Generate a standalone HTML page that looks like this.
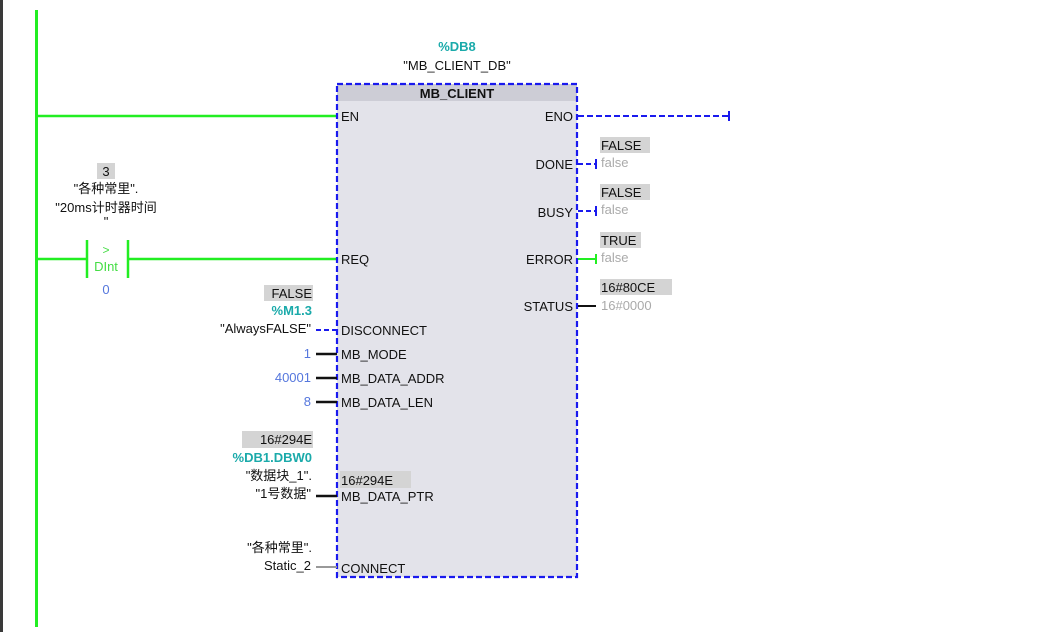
<!DOCTYPE html>
<html><head><meta charset="utf-8"><style>
html,body{margin:0;padding:0;background:#fff;width:1045px;height:632px;overflow:hidden}
svg text{font-family:"Liberation Sans","Noto Sans CJK SC",sans-serif;font-size:13px;fill:#111}
</style></head><body>
<svg width="1045" height="632" xmlns="http://www.w3.org/2000/svg">
<rect x="0" y="0" width="3" height="632" fill="#3a3a3a"/>
<!-- power rail -->
<rect x="35" y="10" width="3" height="617" fill="#22ee22"/>
<!-- EN line -->
<line x1="37" y1="116" x2="337" y2="116" stroke="#22ee22" stroke-width="2.5"/>
<!-- REQ line with contact -->
<line x1="37" y1="259" x2="86" y2="259" stroke="#22ee22" stroke-width="2.5"/>
<line x1="87" y1="240" x2="87" y2="278" stroke="#22ee22" stroke-width="2.5"/>
<line x1="128" y1="240" x2="128" y2="278" stroke="#22ee22" stroke-width="2.5"/>
<line x1="129" y1="259" x2="337" y2="259" stroke="#22ee22" stroke-width="2.5"/>
<text x="106" y="254" text-anchor="middle" style="fill:#44dd44;font-size:12px">&gt;</text>
<text x="106" y="271" text-anchor="middle" style="fill:#44dd44;font-size:13px">DInt</text>
<text x="106" y="294" text-anchor="middle" style="fill:#5577dd">0</text>
<rect x="97" y="163" width="18" height="16" fill="#d4d4d4"/>
<text x="106" y="176" text-anchor="middle">3</text>
<text x="106" y="193" text-anchor="middle">"各种常里".</text>
<text x="106" y="212" text-anchor="middle">"20ms计时器时间</text>
<text x="106" y="226" text-anchor="middle">"</text>
<!-- block -->
<rect x="337" y="84" width="240" height="493" fill="#e3e3ea"/>
<rect x="337" y="84" width="240" height="17" fill="#cdcdd6"/>
<rect x="337" y="84" width="240" height="493" fill="none" stroke="#1a1aee" stroke-width="2.2" stroke-dasharray="6,3"/>
<text x="457" y="98" text-anchor="middle" style="font-weight:bold">MB_CLIENT</text>
<text x="457" y="51" text-anchor="middle" style="fill:#1aaaaa;font-weight:bold">%DB8</text>
<text x="457" y="70" text-anchor="middle">"MB_CLIENT_DB"</text>
<!-- left pins -->
<g>
<text x="341" y="121">EN</text>
<text x="341" y="264">REQ</text>
<text x="341" y="335">DISCONNECT</text>
<text x="341" y="359">MB_MODE</text>
<text x="341" y="383">MB_DATA_ADDR</text>
<text x="341" y="407">MB_DATA_LEN</text>
<rect x="340" y="471" width="71" height="17" fill="#d4d4d4"/>
<text x="341" y="485">16#294E</text>
<text x="341" y="501">MB_DATA_PTR</text>
<text x="341" y="573">CONNECT</text>
</g>
<!-- right pins -->
<g text-anchor="end">
<text x="573" y="121">ENO</text>
<text x="573" y="169">DONE</text>
<text x="573" y="217">BUSY</text>
<text x="573" y="264">ERROR</text>
<text x="573" y="311">STATUS</text>
</g>
<!-- left connections -->
<line x1="316" y1="330" x2="337" y2="330" stroke="#1a1aee" stroke-width="2" stroke-dasharray="5,3"/>
<line x1="316" y1="354" x2="337" y2="354" stroke="#111" stroke-width="2.5"/>
<line x1="316" y1="378" x2="337" y2="378" stroke="#111" stroke-width="2.5"/>
<line x1="316" y1="402" x2="337" y2="402" stroke="#111" stroke-width="2.5"/>
<line x1="316" y1="496" x2="337" y2="496" stroke="#111" stroke-width="2.5"/>
<line x1="316" y1="567" x2="337" y2="567" stroke="#999" stroke-width="2"/>
<rect x="264" y="285" width="49" height="16" fill="#d4d4d4"/>
<text x="312" y="298" text-anchor="end">FALSE</text>
<text x="312" y="315" text-anchor="end" style="fill:#1aaaaa;font-weight:bold">%M1.3</text>
<text x="311" y="333" text-anchor="end">"AlwaysFALSE"</text>
<text x="311" y="358" text-anchor="end" style="fill:#5577dd">1</text>
<text x="311" y="382" text-anchor="end" style="fill:#5577dd">40001</text>
<text x="311" y="406" text-anchor="end" style="fill:#5577dd">8</text>
<rect x="242" y="431" width="71" height="17" fill="#d4d4d4"/>
<text x="312" y="444" text-anchor="end">16#294E</text>
<text x="312" y="462" text-anchor="end" style="fill:#1aaaaa;font-weight:bold">%DB1.DBW0</text>
<text x="312" y="480" text-anchor="end">"数据块_1".</text>
<text x="311" y="498" text-anchor="end">"1号数据"</text>
<text x="312" y="552" text-anchor="end">"各种常里".</text>
<text x="311" y="570" text-anchor="end">Static_2</text>
<!-- right connections -->
<line x1="578" y1="116" x2="728" y2="116" stroke="#1a1aee" stroke-width="2" stroke-dasharray="6,3"/>
<line x1="729" y1="111" x2="729" y2="121" stroke="#1a1aee" stroke-width="2"/>
<line x1="578" y1="164" x2="596" y2="164" stroke="#1a1aee" stroke-width="2" stroke-dasharray="5,3"/>
<line x1="596" y1="159" x2="596" y2="169" stroke="#1a1aee" stroke-width="2"/>
<line x1="578" y1="211" x2="596" y2="211" stroke="#1a1aee" stroke-width="2" stroke-dasharray="5,3"/>
<line x1="596" y1="206" x2="596" y2="216" stroke="#1a1aee" stroke-width="2"/>
<line x1="578" y1="259" x2="596" y2="259" stroke="#22ee22" stroke-width="2"/>
<line x1="596" y1="254" x2="596" y2="264" stroke="#22ee22" stroke-width="2"/>
<line x1="578" y1="306" x2="596" y2="306" stroke="#111" stroke-width="2"/>
<rect x="600" y="137" width="50" height="16" fill="#d4d4d4"/>
<text x="601" y="150">FALSE</text>
<text x="601" y="167" style="fill:#aaa">false</text>
<rect x="600" y="184" width="50" height="16" fill="#d4d4d4"/>
<text x="601" y="197">FALSE</text>
<text x="601" y="214" style="fill:#aaa">false</text>
<rect x="600" y="232" width="41" height="16" fill="#d4d4d4"/>
<text x="601" y="245">TRUE</text>
<text x="601" y="262" style="fill:#aaa">false</text>
<rect x="600" y="279" width="72" height="16" fill="#d4d4d4"/>
<text x="601" y="292">16#80CE</text>
<text x="601" y="310" style="fill:#aaa">16#0000</text>
</svg>
</body></html>
